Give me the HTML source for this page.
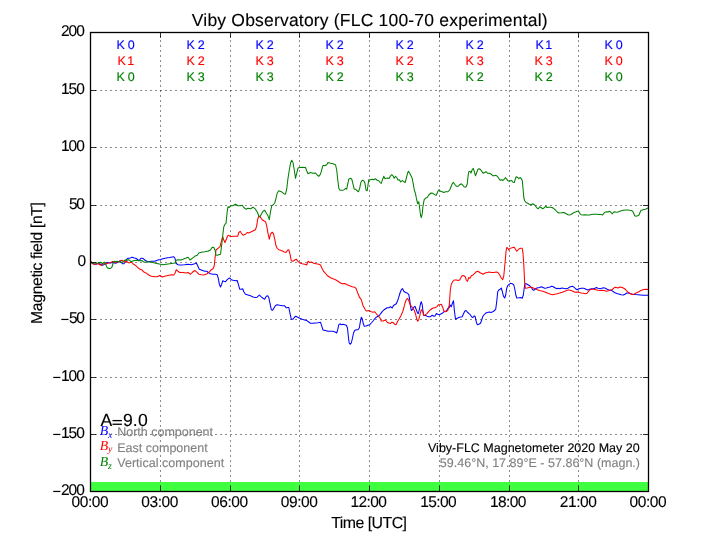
<!DOCTYPE html>
<html><head><meta charset="utf-8"><title>Viby Observatory</title>
<style>
html,body{margin:0;padding:0;background:#fff;}
body{width:720px;height:540px;overflow:hidden;font-family:"Liberation Sans",sans-serif;}
svg{display:block;will-change:transform;}
text{font-family:"Liberation Sans",sans-serif;white-space:pre;text-rendering:geometricPrecision;stroke-width:0.12;}
.g{stroke:#000;stroke-width:0.46;stroke-dasharray:2 3;fill:none;}
.t{stroke:#000;stroke-width:0.8;fill:none;}
.c{fill:none;stroke-width:1.05;stroke-linejoin:round;stroke-linecap:butt;}
.m{font-family:"Liberation Serif",serif;font-style:italic;}
</style></head><body>
<svg width="720" height="540" viewBox="0 0 720 540">
<rect x="0" y="0" width="720" height="540" fill="#fff"/>
<rect x="90.0" y="482.0" width="558.0" height="9.4" fill="#40ff40"/>
<path class="g" d="M160.50 492.00V32.40"/>
<path class="g" d="M230.50 492.00V32.40"/>
<path class="g" d="M299.50 492.00V32.40"/>
<path class="g" d="M369.50 492.00V32.40"/>
<path class="g" d="M439.50 492.00V32.40"/>
<path class="g" d="M509.50 492.00V32.40"/>
<path class="g" d="M578.50 492.00V32.40"/>
<path class="g" d="M90.00 434.50H648.00"/>
<path class="g" d="M90.00 377.50H648.00"/>
<path class="g" d="M90.00 319.50H648.00"/>
<path class="g" d="M90.00 262.50H648.00"/>
<path class="g" d="M90.00 205.50H648.00"/>
<path class="g" d="M90.00 147.50H648.00"/>
<path class="g" d="M90.00 90.50H648.00"/>
<path class="c" stroke="#0000ff" d="M91.2 262.5L92.7 263.5L94.3 264.0L96.0 264.3L97.7 263.8L98.9 263.5L100.2 264.0L101.4 264.8L102.7 265.2L103.9 264.6L105.2 263.8L106.4 262.9L107.7 262.5L108.9 262.7L110.2 262.9L111.4 262.7L112.7 262.5L113.9 262.7L115.2 263.2L116.4 262.9L117.7 262.3L118.9 261.7L119.8 260.8L120.6 261.7L121.7 262.9L122.7 263.8L123.9 263.8L124.8 262.5L125.8 260.8L126.8 259.2L128.1 258.3L129.3 258.3L130.6 257.9L131.8 257.3L133.1 257.5L134.3 257.9L135.6 258.2L136.8 258.8L138.1 260.0L138.9 260.4L139.8 259.6L141.0 258.3L142.2 258.2L143.5 258.8L144.8 260.0L146.0 260.8L148.0 261.7L151.3 261.3L154.7 261.3L158.0 260.0L160.5 259.5L163.0 258.7L166.3 258.0L169.7 257.5L172.2 257.0L173.8 256.7L175.0 258.3L176.0 263.3L178.0 264.7L180.5 265.0L184.7 264.7L188.0 264.2L191.3 264.7L194.7 263.7L196.3 263.0L197.7 265.8L199.3 269.2L201.3 270.0L204.7 271.3L207.2 271.3L208.0 272.5L210.5 273.7L213.0 274.2L215.5 274.2L217.2 274.7L218.3 278.3L219.3 284.2L220.5 287.0L221.7 284.2L222.7 280.8L223.8 281.3L225.5 281.7L227.2 279.7L228.8 278.3L230.0 278.0L231.3 279.7L233.0 280.3L235.5 280.8L237.2 280.5L238.3 284.2L239.7 289.2L241.3 289.2L242.7 288.7L243.8 291.7L245.5 294.2L248.0 295.0L250.5 295.8L253.0 297.0L255.5 297.5L257.2 297.2L259.3 295.0L261.0 296.7L263.0 298.3L264.7 299.2L266.3 296.3L267.7 295.8L268.8 297.5L270.0 303.3L271.3 309.7L272.7 310.3L273.8 308.3L275.5 305.5L277.2 304.7L279.7 305.3L282.2 305.8L284.7 305.8L286.3 307.8L288.0 307.5L288.8 307.5L290.0 313.3L291.3 319.2L293.0 319.2L294.3 317.5L295.8 316.2L297.7 317.2L299.7 318.3L302.2 319.2L304.7 320.0L307.2 320.8L308.8 322.0L310.5 323.3L313.0 323.3L315.5 323.0L318.0 322.8L320.5 322.2L321.7 325.8L323.0 330.0L325.5 330.5L328.0 331.3L330.5 331.3L333.0 331.3L335.5 332.2L336.7 333.0L337.7 329.7L338.8 324.7L340.0 323.8L341.3 324.7L343.0 324.2L344.7 324.7L346.3 325.2L347.5 328.0L348.3 336.3L349.2 343.0L350.2 344.3L351.3 343.0L352.5 338.0L353.5 333.0L354.7 330.5L356.3 329.7L358.0 329.7L359.3 328.0L360.3 322.2L361.3 317.2L362.3 318.8L363.3 323.8L364.3 326.3L366.0 326.0L368.0 325.2L369.7 324.7L371.3 323.0L373.0 321.0L374.7 318.8L376.3 317.2L378.0 316.3L379.3 315.5L380.5 313.8L382.2 311.7L383.8 310.0L385.5 308.8L387.2 307.7L388.8 307.7L390.5 306.7L392.2 308.0L393.5 305.5L394.7 304.7L396.3 303.8L397.7 300.5L398.8 297.2L400.0 293.0L401.3 289.7L402.5 288.5L403.8 291.3L405.5 292.5L407.2 293.0L408.8 294.7L409.7 299.7L410.5 306.3L411.3 310.5L412.7 309.3L413.8 307.2L415.0 306.3L416.3 309.7L417.5 313.0L418.5 313.5L419.3 309.7L420.5 303.8L421.3 301.7L422.2 304.7L423.0 311.3L423.8 315.5L425.5 315.5L427.2 316.3L428.8 316.8L430.5 316.7L432.2 315.2L433.8 316.3L435.0 316.0L436.3 313.5L437.7 314.3L439.3 314.7L441.3 313.8L443.0 312.7L444.7 311.3L446.3 311.0L448.0 308.3L449.3 307.5L450.3 305.0L451.3 306.7L452.5 303.0L453.5 300.8L454.3 310.0L455.5 319.2L457.2 318.3L458.8 317.5L460.5 317.0L462.2 316.7L463.3 314.2L464.7 311.3L466.0 310.5L467.3 312.0L468.8 313.3L470.5 315.0L471.8 317.0L473.0 317.5L474.3 315.8L475.2 316.7L476.0 320.8L477.2 324.7L478.8 324.2L480.5 323.3L481.7 320.0L482.7 316.7L483.8 315.0L485.5 313.3L487.2 312.5L489.3 312.0L491.0 312.5L492.7 311.7L494.3 310.8L495.7 309.2L496.7 301.7L497.7 291.7L498.8 290.0L500.2 289.2L501.3 288.0L502.3 291.7L503.5 296.3L504.7 298.0L505.7 295.0L506.7 288.3L508.0 285.3L509.3 284.2L510.5 283.3L512.2 283.7L513.8 285.0L515.0 290.0L516.0 295.8L516.8 298.0L518.8 297.8L520.5 297.5L522.2 298.3L523.3 295.0L524.3 287.5L525.0 283.7L526.3 283.7L528.0 284.7L529.7 285.8L531.3 287.5L532.7 289.7L533.8 290.3L535.0 289.2L536.3 288.3L538.0 287.8L539.7 287.5L541.3 286.7L543.0 287.5L544.7 288.3L546.3 288.0L548.0 287.5L550.0 287.0L551.7 286.3L553.3 286.7L555.0 287.8L556.7 288.7L558.3 288.3L560.0 288.7L561.7 288.0L563.3 288.3L565.5 288.7L568.0 288.3L568.8 287.5L570.5 286.7L572.2 286.2L573.8 287.0L575.5 288.7L577.2 289.7L578.8 288.7L581.3 288.3L583.8 288.3L586.0 289.2L588.0 290.0L589.7 289.2L591.3 288.7L593.3 288.7L595.0 288.3L596.3 287.5L598.0 288.3L600.0 288.7L601.7 288.3L603.3 287.8L605.5 288.3L607.2 289.2L608.8 290.0L610.5 290.3L612.2 290.8L613.8 292.0L615.5 293.0L617.7 293.7L619.7 294.2L621.3 294.7L623.3 295.0L625.0 294.2L626.7 293.0L628.3 293.0L630.5 293.7L633.0 294.2L635.5 294.5L638.0 294.7L640.5 295.0L643.0 295.3L645.5 295.3L648.0 295.3"/>
<path class="c" stroke="#ff0000" d="M91.2 261.2L92.2 263.3L93.5 264.3L95.2 264.3L96.4 264.0L97.7 263.5L98.9 264.0L100.2 265.0L101.2 265.4L102.2 264.6L103.5 263.8L104.8 263.8L106.0 264.0L107.2 263.5L108.5 262.9L110.2 262.7L111.4 262.1L112.5 261.5L113.5 262.1L114.8 262.5L116.0 262.3L117.2 261.8L118.5 261.7L119.8 261.2L121.0 260.4L122.0 260.2L123.1 261.2L124.2 262.1L125.2 261.7L126.4 261.2L127.7 262.3L128.9 262.9L130.2 262.5L131.4 262.1L132.7 263.3L133.9 264.6L135.2 265.2L136.8 266.7L138.5 268.2L140.2 269.3L141.8 269.8L143.5 271.7L144.8 272.5L146.0 272.9L148.8 275.0L151.3 276.3L154.7 276.7L157.2 276.7L159.7 275.5L162.2 277.0L164.7 276.3L168.0 275.5L171.3 274.7L173.8 275.0L175.0 273.3L176.3 269.7L178.0 271.3L179.7 272.5L183.0 272.5L186.3 273.0L188.0 272.5L190.5 274.2L192.2 272.5L194.7 270.5L196.3 271.7L198.8 274.2L201.3 274.7L203.8 275.0L207.2 273.7L208.0 272.5L209.7 271.7L211.3 269.7L213.0 268.7L214.3 265.8L215.0 258.3L216.0 250.0L218.0 248.3L220.0 246.7L221.3 241.7L222.7 236.7L223.8 240.0L225.0 242.5L226.3 239.2L227.7 235.8L228.8 235.3L230.5 236.7L233.0 236.3L235.5 236.3L237.7 236.3L238.8 232.5L240.2 231.3L241.3 233.0L243.0 235.3L245.5 234.2L247.2 232.5L248.8 233.0L251.3 231.7L253.8 230.5L255.5 229.7L256.7 225.8L257.7 219.2L258.8 216.3L260.5 217.2L262.2 219.7L263.8 220.8L265.5 221.7L266.7 225.8L268.0 233.3L269.3 239.2L270.5 234.2L272.2 232.2L273.5 233.8L274.7 239.2L276.0 245.8L277.2 248.3L278.8 249.7L281.3 250.5L283.8 251.7L286.0 252.5L287.7 250.0L288.8 249.7L290.0 254.2L291.3 260.8L293.0 261.3L294.7 260.0L296.3 259.2L298.0 261.3L299.7 263.0L302.2 263.7L304.7 264.2L306.7 265.0L308.0 261.3L309.7 262.5L311.3 262.0L313.8 263.3L316.3 263.8L318.8 264.2L320.5 265.0L322.2 268.7L323.8 271.7L325.5 273.3L327.2 275.5L328.0 276.0L330.5 277.7L333.0 278.8L335.5 279.7L338.0 281.3L340.5 283.0L342.2 283.8L344.7 283.5L347.2 284.7L349.7 285.8L352.2 286.7L354.7 287.2L356.3 288.8L358.0 293.8L359.7 297.7L361.3 299.7L363.0 305.5L364.7 308.8L366.3 311.0L368.8 310.5L371.3 311.7L373.0 312.2L374.7 311.7L376.3 313.8L378.0 315.5L380.0 318.0L381.3 321.0L383.0 321.0L385.5 320.0L387.2 322.2L388.8 323.0L390.5 323.5L391.8 322.2L393.3 322.7L394.7 324.3L396.0 324.7L397.7 321.3L399.3 318.8L401.0 315.5L402.7 311.7L403.8 308.0L405.0 303.0L406.3 299.7L407.7 298.5L408.8 300.5L410.0 304.3L411.3 306.3L413.0 308.0L414.3 310.5L415.5 313.8L416.7 318.8L417.7 321.3L418.8 319.7L420.0 314.7L421.3 309.7L422.7 311.3L423.8 315.5L425.5 314.7L427.2 313.3L428.8 311.3L430.5 309.7L432.2 308.5L433.8 307.7L435.5 307.7L437.2 306.3L438.5 304.7L440.0 304.7L441.3 304.3L442.7 307.2L443.8 311.0L445.5 311.7L447.2 311.0L448.0 310.0L449.3 305.0L450.3 290.0L451.3 284.2L452.7 281.7L454.3 280.0L456.3 280.0L458.0 280.5L459.7 280.0L461.0 277.5L462.3 275.5L463.8 275.8L465.2 276.7L466.3 280.0L467.5 281.3L468.7 277.5L470.0 278.3L471.3 275.8L473.0 275.0L474.7 273.3L476.3 271.7L478.0 271.3L479.7 272.5L481.3 273.3L483.0 274.2L485.0 273.0L487.2 272.5L489.3 272.0L491.3 272.5L493.8 272.5L496.3 272.0L498.0 272.5L499.7 275.0L501.3 278.0L502.7 279.7L503.8 275.8L505.0 263.3L506.0 251.7L506.7 247.5L507.7 248.0L508.8 250.0L510.0 248.3L511.3 248.0L513.0 247.5L514.3 247.2L515.5 249.2L516.7 251.3L518.0 250.0L519.3 248.7L520.7 248.3L522.2 248.3L523.0 253.3L523.8 265.0L524.7 283.3L525.5 288.3L527.2 288.0L528.8 287.5L530.5 287.0L532.2 287.5L533.8 288.3L535.5 288.7L537.2 289.7L538.8 290.3L540.5 290.8L543.0 291.3L545.5 292.2L548.0 293.3L550.5 294.2L552.2 294.7L554.7 294.2L557.2 293.7L559.7 293.0L562.2 292.2L564.7 291.3L566.7 290.5L568.0 290.0L568.8 290.0L571.0 290.5L573.0 291.3L575.0 292.2L577.2 292.0L579.3 292.5L581.3 293.0L583.3 293.3L585.5 293.8L587.2 293.3L588.5 291.3L590.0 289.7L591.7 289.2L593.8 289.2L596.0 289.7L598.0 290.3L600.0 290.5L602.2 290.3L604.3 290.5L606.3 291.2L608.3 290.8L610.5 290.0L612.2 289.5L613.5 288.3L615.0 287.2L616.3 287.5L618.0 288.0L619.3 287.2L620.7 287.0L622.2 287.5L623.8 288.3L625.5 289.5L627.2 291.3L628.8 292.8L630.5 293.8L632.2 294.5L633.8 294.2L635.5 293.3L637.2 292.5L638.8 291.7L640.5 290.8L642.2 290.0L643.8 289.5L646.3 289.3L648.3 289.5"/>
<path class="c" stroke="#008000" d="M91.2 262.5L92.7 262.9L94.3 262.9L96.0 263.2L97.7 262.9L98.9 262.5L100.2 262.3L101.4 262.7L102.2 264.0L103.1 262.9L104.3 262.1L105.3 262.9L106.0 265.0L106.8 267.1L108.1 268.3L109.3 268.6L110.6 268.3L111.8 267.3L112.7 265.0L113.3 262.1L114.3 261.2L115.6 261.7L116.8 261.2L118.1 261.5L119.3 262.1L120.6 262.3L121.8 262.5L123.1 261.7L124.2 260.7L125.2 260.0L126.4 259.8L127.7 260.2L128.7 259.8L129.8 260.4L131.0 261.7L132.2 261.2L133.5 260.7L134.8 260.4L136.0 260.2L137.2 260.4L138.5 260.8L139.8 260.7L141.0 260.4L142.2 260.8L143.5 261.7L144.8 262.3L146.0 262.1L148.0 261.7L151.3 262.0L154.7 263.0L158.0 263.7L160.5 264.2L163.0 264.7L166.3 264.2L169.7 263.7L173.0 263.3L175.0 263.0L176.0 260.3L178.0 259.7L180.5 260.0L183.0 259.2L185.5 258.3L188.0 257.2L190.0 260.0L192.2 258.3L194.7 256.3L197.2 255.3L198.8 253.0L201.3 252.2L204.7 251.7L207.2 251.2L208.0 251.3L210.5 250.0L212.2 247.2L213.8 247.5L215.0 250.0L216.0 255.0L217.2 255.3L218.8 254.7L220.5 254.2L221.3 248.3L222.7 235.8L223.8 226.7L225.0 224.2L226.0 223.3L227.2 211.7L228.0 206.7L229.3 207.5L230.5 205.8L233.0 205.8L235.5 204.2L238.0 205.8L240.5 205.8L242.2 205.3L243.8 207.5L246.0 209.2L248.0 208.3L250.5 208.7L253.0 207.2L255.5 209.2L257.2 212.0L258.8 215.8L260.0 216.7L261.3 214.2L263.0 211.3L264.7 210.3L266.3 213.0L268.0 215.8L269.3 219.7L270.5 211.7L271.7 205.8L273.0 205.0L274.7 203.0L276.0 198.3L277.2 193.0L278.8 190.8L281.3 191.7L283.8 193.7L285.5 194.2L286.7 189.2L288.0 178.3L289.3 170.0L290.5 163.3L291.7 160.3L293.0 162.5L294.3 170.0L295.5 178.3L296.7 173.3L298.0 168.0L299.7 167.5L302.2 167.2L305.5 167.5L306.7 170.8L308.0 173.7L310.5 172.5L313.0 173.3L315.5 173.0L317.2 175.0L318.8 176.3L320.5 174.2L321.8 169.7L323.0 165.3L324.7 165.8L326.7 164.7L328.0 162.5L330.5 163.3L333.0 163.7L335.5 164.7L336.7 170.0L337.7 179.2L338.8 188.3L340.0 190.3L342.2 190.3L343.8 190.0L345.5 188.3L346.7 189.2L347.7 184.2L348.8 179.2L350.5 178.3L351.8 179.2L353.0 184.2L354.2 189.2L355.5 189.2L357.2 190.8L358.5 191.7L359.7 188.3L360.8 182.5L362.2 180.3L363.8 180.8L365.0 183.3L366.0 190.0L367.2 190.8L368.0 185.0L368.8 179.7L370.5 179.7L372.2 179.2L373.8 179.7L375.5 178.7L377.2 180.3L378.8 180.8L380.5 183.0L381.3 183.3L382.7 179.2L383.8 176.3L385.0 178.7L386.3 178.3L388.0 178.0L389.3 178.3L390.5 175.8L391.7 174.7L393.0 175.8L394.2 178.3L395.5 176.3L396.7 177.5L398.0 180.0L399.3 179.7L400.7 182.0L402.2 180.5L403.8 181.7L405.2 182.5L406.3 178.3L407.5 173.3L408.5 171.3L409.7 173.3L411.0 175.8L412.2 178.3L413.3 184.2L414.3 190.0L415.5 193.7L416.7 200.0L417.7 203.7L418.8 201.7L419.7 208.3L420.5 215.0L421.3 217.5L422.2 214.2L423.0 205.8L424.2 199.7L425.5 198.3L427.2 197.5L428.8 195.0L431.0 193.0L433.0 193.3L434.7 194.7L436.3 195.3L437.7 191.7L439.0 189.7L440.5 191.3L442.2 191.7L443.8 192.5L445.5 191.7L448.0 191.7L449.7 190.0L451.0 186.7L452.2 183.7L453.3 182.2L454.7 184.2L456.3 186.3L458.0 186.3L459.7 184.7L461.3 183.8L462.7 185.0L464.2 187.0L466.0 187.0L467.2 184.2L468.0 176.7L468.8 171.7L470.0 171.3L471.0 173.0L472.2 169.7L473.3 168.3L474.3 171.7L475.5 175.8L476.7 172.5L478.0 169.2L479.3 168.7L480.7 169.7L482.0 171.7L483.3 173.3L484.7 172.5L486.0 171.7L487.7 173.3L489.7 173.3L491.3 174.2L492.7 175.8L494.3 175.8L496.0 175.3L497.7 176.7L499.0 178.7L500.3 180.3L501.7 179.7L503.0 180.5L504.3 179.2L505.5 177.5L506.7 179.2L508.0 180.8L509.3 181.3L510.5 180.8L511.7 180.5L513.0 182.2L514.3 182.5L515.5 178.3L516.3 176.7L517.7 177.5L518.8 178.7L520.0 177.5L521.3 178.7L522.3 180.8L523.0 188.3L523.8 197.5L524.7 200.8L526.0 202.5L527.7 203.3L529.3 204.2L531.0 204.7L532.7 203.7L534.3 204.7L536.0 206.7L537.2 208.3L538.3 208.7L539.7 206.7L541.0 207.5L542.7 208.7L544.0 208.0L545.5 206.3L547.2 207.5L548.8 207.2L550.5 207.2L552.2 207.5L553.8 208.7L555.5 210.0L557.2 212.0L558.8 213.0L561.3 212.8L563.8 212.5L565.5 213.3L568.0 214.7L568.8 215.0L570.5 214.7L572.2 213.8L573.8 212.5L575.5 212.0L577.2 211.3L578.5 211.2L579.7 213.3L581.0 214.7L583.0 215.0L585.0 214.7L587.2 215.0L589.3 215.0L591.3 214.5L593.8 214.3L596.3 214.2L598.8 214.5L601.0 214.5L602.7 215.0L603.8 213.3L605.2 212.2L606.7 211.7L608.0 212.0L609.3 211.3L610.5 212.0L612.2 213.8L613.3 212.5L614.7 211.7L616.3 212.2L618.0 212.0L619.7 211.3L621.3 210.8L623.3 210.3L625.5 210.0L627.7 210.0L629.7 210.3L631.3 210.5L632.7 211.2L633.7 213.3L634.7 215.8L636.0 216.3L637.7 215.8L639.0 215.0L640.0 212.5L641.0 210.3L642.2 210.0L643.8 209.5L645.5 209.2L647.2 208.3L648.3 208.0"/>
<path class="t" d="M90.50 491.40v-5.50M90.50 32.40v5.50"/>
<path class="t" d="M160.50 491.40v-5.50M160.50 32.40v5.50"/>
<path class="t" d="M230.50 491.40v-5.50M230.50 32.40v5.50"/>
<path class="t" d="M299.50 491.40v-5.50M299.50 32.40v5.50"/>
<path class="t" d="M369.50 491.40v-5.50M369.50 32.40v5.50"/>
<path class="t" d="M439.50 491.40v-5.50M439.50 32.40v5.50"/>
<path class="t" d="M509.50 491.40v-5.50M509.50 32.40v5.50"/>
<path class="t" d="M578.50 491.40v-5.50M578.50 32.40v5.50"/>
<path class="t" d="M648.50 491.40v-5.50M648.50 32.40v5.50"/>
<path class="t" d="M90.50 491.50h5.50M648.50 491.50h-5.50"/>
<path class="t" d="M90.50 434.50h5.50M648.50 434.50h-5.50"/>
<path class="t" d="M90.50 377.50h5.50M648.50 377.50h-5.50"/>
<path class="t" d="M90.50 319.50h5.50M648.50 319.50h-5.50"/>
<path class="t" d="M90.50 262.50h5.50M648.50 262.50h-5.50"/>
<path class="t" d="M90.50 205.50h5.50M648.50 205.50h-5.50"/>
<path class="t" d="M90.50 147.50h5.50M648.50 147.50h-5.50"/>
<path class="t" d="M90.50 90.50h5.50M648.50 90.50h-5.50"/>
<path class="t" d="M90.50 32.50h5.50M648.50 32.50h-5.50"/>
<rect x="90.50" y="32.50" width="558.00" height="459.00" fill="none" stroke="#000" stroke-width="1.3"/>
<text x="191.80" y="26.00" font-size="17.50" letter-spacing="0.193" fill="#000" stroke="#000">Viby Observatory (FLC 100-70 experimental)</text>
<text x="61.00" y="495.00" font-size="15.50" letter-spacing="-1.043" fill="#000" stroke="#000">200</text>
<rect x="53.20" y="490.85" width="7.2" height="1.2" fill="#000"/>
<text x="61.00" y="438.00" font-size="15.50" letter-spacing="-1.043" fill="#000" stroke="#000">150</text>
<rect x="53.20" y="433.85" width="7.2" height="1.2" fill="#000"/>
<text x="61.00" y="381.00" font-size="15.50" letter-spacing="-1.043" fill="#000" stroke="#000">100</text>
<rect x="53.20" y="376.85" width="7.2" height="1.2" fill="#000"/>
<text x="69.10" y="323.00" font-size="15.50" letter-spacing="-1.505" fill="#000" stroke="#000">50</text>
<rect x="61.30" y="318.85" width="7.2" height="1.2" fill="#000"/>
<text x="77.40" y="266.00" font-size="15.50" letter-spacing="0.000" fill="#000" stroke="#000">0</text>
<text x="69.10" y="209.00" font-size="15.50" letter-spacing="-1.505" fill="#000" stroke="#000">50</text>
<text x="61.00" y="151.00" font-size="15.50" letter-spacing="-1.043" fill="#000" stroke="#000">100</text>
<text x="61.00" y="94.00" font-size="15.50" letter-spacing="-1.043" fill="#000" stroke="#000">150</text>
<text x="61.00" y="36.00" font-size="15.50" letter-spacing="-1.043" fill="#000" stroke="#000">200</text>
<text x="71.50" y="507.00" font-size="15.50" letter-spacing="-0.432" fill="#000" stroke="#000">00:00</text>
<text x="141.25" y="507.00" font-size="15.50" letter-spacing="-0.432" fill="#000" stroke="#000">03:00</text>
<text x="211.00" y="507.00" font-size="15.50" letter-spacing="-0.432" fill="#000" stroke="#000">06:00</text>
<text x="280.75" y="507.00" font-size="15.50" letter-spacing="-0.432" fill="#000" stroke="#000">09:00</text>
<text x="350.50" y="507.00" font-size="15.50" letter-spacing="-0.607" fill="#000" stroke="#000">12:00</text>
<text x="420.25" y="507.00" font-size="15.50" letter-spacing="-0.607" fill="#000" stroke="#000">15:00</text>
<text x="490.00" y="507.00" font-size="15.50" letter-spacing="-0.607" fill="#000" stroke="#000">18:00</text>
<text x="559.75" y="507.00" font-size="15.50" letter-spacing="-0.432" fill="#000" stroke="#000">21:00</text>
<text x="629.50" y="507.00" font-size="15.50" letter-spacing="-0.432" fill="#000" stroke="#000">00:00</text>
<text x="331.25" y="528.00" font-size="15.90" letter-spacing="-0.538" fill="#000" stroke="#000">Time [UTC]</text>
<text transform="translate(41.8,323.90) rotate(-90)" x="0.00" y="0" font-size="15.80" letter-spacing="-0.399" stroke="#000">Magnetic field [nT]</text>
<text x="116.60" y="49.00" font-size="12.50" letter-spacing="-0.375" fill="#0000ff" stroke="#0000ff">K 0</text>
<text x="117.50" y="65.00" font-size="12.50" letter-spacing="-1.025" fill="#ff0000" stroke="#ff0000">K 1</text>
<text x="116.60" y="81.00" font-size="12.50" letter-spacing="-0.375" fill="#008000" stroke="#008000">K 0</text>
<text x="186.60" y="49.00" font-size="12.50" letter-spacing="-0.375" fill="#0000ff" stroke="#0000ff">K 2</text>
<text x="186.60" y="65.00" font-size="12.50" letter-spacing="-0.375" fill="#ff0000" stroke="#ff0000">K 2</text>
<text x="186.60" y="81.00" font-size="12.50" letter-spacing="-0.375" fill="#008000" stroke="#008000">K 3</text>
<text x="255.60" y="49.00" font-size="12.50" letter-spacing="-0.375" fill="#0000ff" stroke="#0000ff">K 2</text>
<text x="255.60" y="65.00" font-size="12.50" letter-spacing="-0.375" fill="#ff0000" stroke="#ff0000">K 3</text>
<text x="255.60" y="81.00" font-size="12.50" letter-spacing="-0.375" fill="#008000" stroke="#008000">K 3</text>
<text x="325.60" y="49.00" font-size="12.50" letter-spacing="-0.375" fill="#0000ff" stroke="#0000ff">K 2</text>
<text x="325.60" y="65.00" font-size="12.50" letter-spacing="-0.375" fill="#ff0000" stroke="#ff0000">K 3</text>
<text x="325.60" y="81.00" font-size="12.50" letter-spacing="-0.375" fill="#008000" stroke="#008000">K 2</text>
<text x="395.60" y="49.00" font-size="12.50" letter-spacing="-0.375" fill="#0000ff" stroke="#0000ff">K 2</text>
<text x="395.60" y="65.00" font-size="12.50" letter-spacing="-0.375" fill="#ff0000" stroke="#ff0000">K 2</text>
<text x="395.60" y="81.00" font-size="12.50" letter-spacing="-0.375" fill="#008000" stroke="#008000">K 3</text>
<text x="465.60" y="49.00" font-size="12.50" letter-spacing="-0.375" fill="#0000ff" stroke="#0000ff">K 2</text>
<text x="465.60" y="65.00" font-size="12.50" letter-spacing="-0.375" fill="#ff0000" stroke="#ff0000">K 3</text>
<text x="465.60" y="81.00" font-size="12.50" letter-spacing="-0.375" fill="#008000" stroke="#008000">K 2</text>
<text x="535.50" y="49.00" font-size="12.50" letter-spacing="-1.025" fill="#0000ff" stroke="#0000ff">K 1</text>
<text x="534.60" y="65.00" font-size="12.50" letter-spacing="-0.375" fill="#ff0000" stroke="#ff0000">K 3</text>
<text x="534.60" y="81.00" font-size="12.50" letter-spacing="-0.375" fill="#008000" stroke="#008000">K 2</text>
<text x="604.60" y="49.00" font-size="12.50" letter-spacing="-0.375" fill="#0000ff" stroke="#0000ff">K 0</text>
<text x="604.60" y="65.00" font-size="12.50" letter-spacing="-0.375" fill="#ff0000" stroke="#ff0000">K 0</text>
<text x="604.60" y="81.00" font-size="12.50" letter-spacing="-0.375" fill="#008000" stroke="#008000">K 0</text>
<text x="100.50" y="426.00" font-size="17.60" letter-spacing="0.000" fill="#000" stroke="#000">A</text>
<rect x="112.5" y="419.95" width="9.4" height="1.3" fill="#000"/><rect x="112.5" y="423.6" width="9.4" height="1.3" fill="#000"/>
<text x="122.90" y="426.00" font-size="17.60" letter-spacing="0.168" fill="#000" stroke="#000">9.0</text>
<text x="99.7" y="435.40" class="m" font-size="13.8" fill="#0000ff">B<tspan font-size="9.8" dy="2.4" dx="-0.2">x</tspan></text>
<text x="117.20" y="436.00" font-size="12.50" letter-spacing="-0.005" fill="#808080" stroke="#808080">North component</text>
<text x="99.7" y="449.70" class="m" font-size="13.8" fill="#ff0000">B<tspan font-size="9.8" dy="2.4" dx="-0.2">y</tspan></text>
<text x="117.20" y="452.00" font-size="12.50" letter-spacing="0.014" fill="#808080" stroke="#808080">East component</text>
<text x="99.7" y="466.40" class="m" font-size="13.8" fill="#008000">B<tspan font-size="9.8" dy="2.4" dx="-0.2">z</tspan></text>
<text x="117.20" y="467.00" font-size="12.50" letter-spacing="0.046" fill="#808080" stroke="#808080">Vertical component</text>
<text x="428.00" y="452.00" font-size="12.50" letter-spacing="0.000" fill="#000" stroke="#000">Viby-FLC Magnetometer 2020 May 20</text>
<text x="439.80" y="467.00" font-size="12.50" letter-spacing="0.012" fill="#808080" stroke="#808080">59.46°N, 17.89°E - 57.86°N (magn.)</text>
</svg>
</body></html>
